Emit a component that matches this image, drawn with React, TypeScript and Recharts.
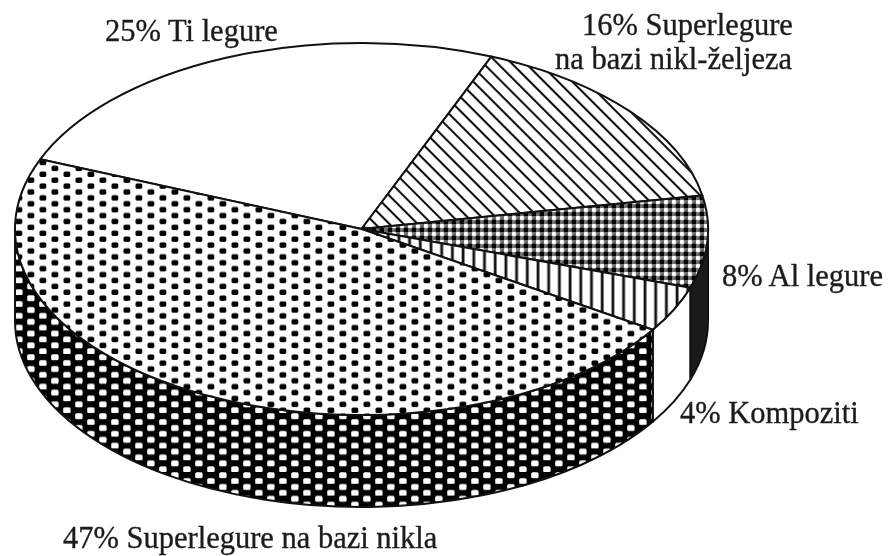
import { Pie, PieChart } from 'recharts'

const names = ['Ti legure', 'Superlegure na bazi nikl-željeza', 'Al legure', 'Kompoziti', 'Superlegure na bazi nikla']
const shares = [25, 16, 8, 4, 47]

const labelLines = [
    ['25% Ti legure'],
    ['16% Superlegure', 'na bazi nikl-željeza'],
    ['8% Al legure'],
    ['4% Kompoziti'],
    ['47% Superlegure na bazi nikla']
]
const labelSpots = [
    { x: 105, y: 41 },
    { x: 582, y: 35 },
    { x: 722, y: 286 },
    { x: 680, y: 423 },
    { x: 63, y: 548 }
]

const topFills = ['#ffffff', 'url(#hatchDiag)', 'url(#checkDense)', 'url(#hatchVert)', 'url(#dotsLight)']
const wallFills = ['#ffffff', '#ffffff', '#1a1a1a', '#ffffff', 'url(#dotsDark)']

const tableData = names.map((name, i) => ({ name, value: shares[i] }))

const WIDTH = 888
const HEIGHT = 556
const CX = 361.5
const CY = 229
const RX = 346.5
const SQUASH = 186 / 346.5
const DEPTH = 92
const START = 158

const RAD = Math.PI / 180

// the library hands out circle angles, these get pressed flat onto the ellipse
function pt(deg: number, drop = 0) {
    const x = CX + RX * Math.cos(deg * RAD)
    const y = CY - RX * SQUASH * Math.sin(deg * RAD) + drop
    return `${x.toFixed(2)} ${y.toFixed(2)}`
}

function TopSlice(props: any) {
    const { startAngle, endAngle, index } = props
    const ry = RX * SQUASH
    const large = Math.abs(startAngle - endAngle) > 180 ? 1 : 0
    const d = `M ${CX} ${CY} L ${pt(startAngle)} A ${RX} ${ry} 0 ${large} 1 ${pt(endAngle)} Z`
    return <path d={d} fill={topFills[index]} stroke="#111" strokeWidth={2} strokeLinejoin="round" />
}

function WallSlice(props: any) {
    const { startAngle, endAngle, index } = props
    // only the front half of the rim has a visible wall (0 to -180)
    const from = Math.min(startAngle, 0)
    const to = Math.max(endAngle, -180)
    if (from <= to) {
        return <g />
    }
    const ry = RX * SQUASH
    const large = from - to > 180 ? 1 : 0
    const d = [
        `M ${pt(from)}`,
        `A ${RX} ${ry} 0 ${large} 1 ${pt(to)}`,
        `L ${pt(to, DEPTH)}`,
        `A ${RX} ${ry} 0 ${large} 0 ${pt(from, DEPTH)}`,
        'Z'
    ].join(' ')
    return <path d={d} fill={wallFills[index]} stroke="#111" strokeWidth={2} strokeLinejoin="round" />
}

function SliceLabel(props: any) {
    const { index } = props
    const spot = labelSpots[index]
    const lines = labelLines[index]
    return (
        <text
            x={spot.x}
            y={spot.y}
            fill="#1c1c1c"
            stroke="#1c1c1c"
            strokeWidth={0.35}
            fontFamily="'Liberation Serif', serif"
            fontSize={30.5}
            textAnchor="start"
        >
            {lines.map((line, i) => (
                <tspan key={line} x={i === 0 ? spot.x : 555} dy={i === 0 ? 0 : 34}>
                    {line}
                </tspan>
            ))}
        </text>
    )
}

export default function App() {
    return (
        <div style={{ position: 'absolute', left: 0, top: 0, width: WIDTH, height: HEIGHT, filter: 'blur(0.7px)' }}>
            <PieChart width={WIDTH} height={HEIGHT} margin={{ top: 0, right: 0, bottom: 0, left: 0 }}>
                <defs>
                    <pattern id="hatchDiag" width="10" height="10" patternUnits="userSpaceOnUse" patternTransform="rotate(45)">
                        <rect width="10" height="10" fill="#fff" />
                        <line x1="0" y1="3" x2="10" y2="3" stroke="#111" strokeWidth="2.1" />
                    </pattern>
                    <pattern id="hatchVert" width="10.7" height="10" patternUnits="userSpaceOnUse">
                        <rect width="10.7" height="10" fill="#fff" />
                        <line x1="3" y1="0" x2="3" y2="10" stroke="#111" strokeWidth="2.8" />
                    </pattern>
                    <pattern id="checkDense" width="8" height="8" patternUnits="userSpaceOnUse">
                        <rect width="8" height="8" fill="#6e6e6e" />
                        <circle cx="2" cy="2" r="2.2" fill="#fff" />
                        <circle cx="6" cy="6" r="2.5" fill="#000" />
                    </pattern>
                    <pattern id="dotsLight" width="24" height="11.8" patternUnits="userSpaceOnUse">
                        <rect width="24" height="11.8" fill="#fff" />
                        <rect x="3.5" y="0.4" width="6.8" height="5.4" rx="1.6" fill="#000" />
                        <rect x="15.5" y="6.3" width="6.8" height="5.4" rx="1.6" fill="#000" />
                    </pattern>
                    <pattern id="dotsDark" width="24" height="11.8" patternUnits="userSpaceOnUse">
                        <rect width="24" height="11.8" fill="#000" />
                        <rect x="3.2" y="0.2" width="7.4" height="6" rx="1.6" fill="#fff" />
                        <rect x="15.2" y="6.1" width="7.4" height="6" rx="1.6" fill="#fff" />
                    </pattern>
                </defs>
                <Pie
                    data={tableData}
                    dataKey="value"
                    nameKey="name"
                    cx={CX}
                    cy={CY}
                    innerRadius={0}
                    outerRadius={RX}
                    startAngle={START}
                    endAngle={START - 360}
                    paddingAngle={0}
                    shape={WallSlice}
                    isAnimationActive={false}
                    rootTabIndex={-1}
                />
                <Pie
                    data={tableData}
                    dataKey="value"
                    nameKey="name"
                    cx={CX}
                    cy={CY}
                    innerRadius={0}
                    outerRadius={RX}
                    startAngle={START}
                    endAngle={START - 360}
                    paddingAngle={0}
                    shape={TopSlice}
                    label={SliceLabel}
                    labelLine={false}
                    isAnimationActive={false}
                    rootTabIndex={-1}
                />
            </PieChart>
        </div>
    )
}
